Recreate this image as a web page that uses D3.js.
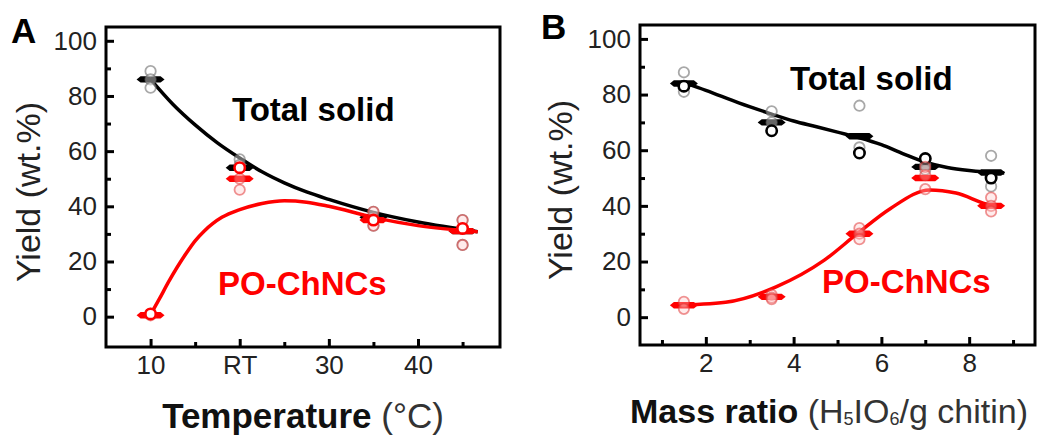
<!DOCTYPE html>
<html>
<head>
<meta charset="utf-8">
<script src="https://cdn.jsdelivr.net/npm/d3@7"></script>
<style>
  body { margin: 0; background: #fff; }
  svg { font-family: "Liberation Sans", Arial, sans-serif; }
</style>
</head>
<body>
<svg id="chart" width="1050" height="436"></svg>
<script>
// ---- panel A: temperature ----
const tempX = [10, 20, 35, 45];
const tempTicks = [10, 20, 30, 40];
const tempTickLabels = ["10", "RT", "30", "40"];
const totalA_mean = [86, 54, 36, 31];
const totalA_reps = [[89, 86, 83], [57, 55], [38, 36, 33], [35, 32, 26]];
const poA_mean = [0.5, 50, 35, 31];
const poA_main = [1, 54, 35, 32];
const poA_reps = [[1, 0.5], [50, 46], [38, 33], [35, 26]];
// fitted curves
const fitA_total = [[10, 86], [12.5, 77], [15, 69.5], [17.5, 63], [20, 57.5], [22.5, 52.5], [25, 48.5],
  [27.5, 45.2], [30, 42.5], [35, 37.8], [40, 34.3], [46.7, 30.8]];
const fitA_po = [[10, 0.7], [11, 6.5], [12, 12.5], [13, 18], [14, 23], [15, 27.5], [16, 31], [17, 33.8],
  [18, 36], [20, 38.8], [22.5, 41], [25, 42], [27.5, 41.5], [30, 40], [35, 36], [40, 33], [46.7, 30.8]];

// ---- panel B: mass ratio ----
const ratioX = [1.5, 3.5, 5.5, 7, 8.5];
const ratioTicks = [2, 4, 6, 8];
const totalB_mean = [84, 70, 65, 54, 52];
const totalB_main = [83, 67, 59, 57, 50];
const totalB_reps = [[88, 81], [74, 70], [76, 61], [55, 53], [58, 47]];
const poB_mean = [4.3, 7.3, 30, 50, 40];
const poB_reps = [[5.5, 3], [8, 7, 6.5], [32, 30, 28], [54, 51, 46], [43, 40, 38]];
const fitB_total = [[1.55, 84], [2, 81.5], [2.75, 77], [3.5, 73], [4, 70.5], [4.5, 68.5], [5, 66.5],
  [5.5, 64.5], [6, 62], [6.5, 58.7], [7, 55.7], [7.5, 53.8], [8, 52.7], [8.8, 51.8]];
const fitB_po = [[1.25, 4.3], [2.45, 5.4], [3.6, 10.9], [4.7, 20.5], [5.45, 30], [6.2, 39], [7.1, 45.7],
  [7.7, 44.6], [8.5, 40.3], [8.75, 40]];

const yTicks = [0, 20, 40, 60, 80, 100];
const yMinor = [10, 30, 50, 70, 90];

const svg = d3.select("#chart");
const RED = "#f00";

function drawPanel(p) {
  const x = d3.scaleLinear().domain(p.xDomain).range([p.left, p.right]);
  const y = d3.scaleLinear().domain(p.yDomain).range([p.bottom, p.top]);
  const g = svg.append("g");

  // axes (ticks inside)
  g.append("g").attr("transform", `translate(${p.left},0)`)
      .call(d3.axisLeft(y).tickValues(yTicks).tickSize(-8).tickPadding(9));
  g.append("g").attr("transform", `translate(${p.left},0)`)
      .call(d3.axisLeft(y).tickValues(yMinor).tickSize(-5).tickFormat(""));
  g.append("g").attr("transform", `translate(0,${p.bottom})`)
      .call(d3.axisBottom(x).tickValues(p.xTicks).tickSize(-8).tickPadding(9)
        .tickFormat((d, i) => p.xLabels ? p.xLabels[i] : d));
  g.append("g").attr("transform", `translate(0,${p.bottom})`)
      .call(d3.axisBottom(x).tickValues(p.xMinor).tickSize(-5).tickFormat(""));
  g.selectAll(".domain").remove();
  g.selectAll(".tick line").attr("stroke", "#000").attr("stroke-width", 3);
  g.selectAll(".tick text").attr("font-size", 26).attr("fill", "#222");

  g.append("rect")
      .attr("x", p.left).attr("y", p.top)
      .attr("width", p.right - p.left).attr("height", p.bottom - p.top)
      .attr("fill", "none").attr("stroke", "#000").attr("stroke-width", 3);

  const line = d3.line().x(d => x(d[0])).y(d => y(d[1])).curve(d3.curveMonotoneX);
  const bar = "M-14,0L-10,-3.2L10,-3.2L14,0L10,3.2L-10,3.2Z";

  function series(fit, xs, means, reps, mains, color, light, lightFill) {
    g.append("path").datum(fit).attr("d", line)
        .attr("fill", "none").attr("stroke", color).attr("stroke-width", 3.5);
    g.selectAll(null).data(xs).enter().append("path")
        .attr("d", bar).attr("fill", color)
        .attr("transform", (d, i) => `translate(${x(d)},${y(means[i])})`);
    xs.forEach((xv, i) => {
      g.selectAll(null).data(reps[i]).enter().append("circle")
          .attr("cx", x(xv)).attr("cy", d => y(d)).attr("r", 5.2)
          .attr("fill", lightFill).attr("stroke", light).attr("stroke-width", 1.8);
    });
    if (mains) {
      g.selectAll(null).data(xs).enter().append("circle")
          .attr("cx", d => x(d)).attr("cy", (d, i) => y(mains[i])).attr("r", 5.2)
          .attr("fill", "#fff").attr("stroke", color).attr("stroke-width", 2.6);
    }
  }

  series(p.fitTotal, p.xs, p.totalMean, p.totalReps, p.totalMain, "#000",
         "rgba(110,110,110,0.6)", "rgba(255,255,255,0.4)");
  series(p.fitPo, p.xs, p.poMean, p.poReps, p.poMain, RED,
         "rgba(225,60,60,0.55)", "rgba(255,200,200,0.35)");

  // in-plot labels
  g.append("text").attr("x", p.totalLabel[0]).attr("y", p.totalLabel[1])
      .attr("font-size", 33).attr("font-weight", "bold").attr("fill", "#000").text("Total solid");
  g.append("text").attr("x", p.poLabel[0]).attr("y", p.poLabel[1])
      .attr("font-size", 33).attr("font-weight", "bold").attr("fill", RED).text("PO-ChNCs");

  // panel letter
  g.append("text").attr("x", p.letter[0]).attr("y", p.letter[1])
      .attr("font-size", 35).attr("font-weight", "bold").text(p.letterText);

  // y title
  g.append("text")
      .attr("transform", `translate(${p.yTitleX},${(p.top + p.bottom) / 2 + 5}) rotate(-90)`)
      .attr("text-anchor", "middle").attr("font-size", 34).attr("fill", "#222")
      .text("Yield (wt.%)");
  return g;
}

const gA = drawPanel({
  left: 106, right: 500, top: 27, bottom: 347,
  xDomain: [5, 49.2], yDomain: [-11, 105],
  xTicks: tempTicks, xLabels: tempTickLabels, xMinor: [15, 25, 35, 45],
  xs: tempX,
  totalMean: totalA_mean, totalReps: totalA_reps, totalMain: null,
  poMean: poA_mean, poReps: poA_reps, poMain: poA_main,
  fitTotal: fitA_total, fitPo: fitA_po,
  totalLabel: [232, 121], poLabel: [218, 295],
  letter: [11, 43], letterText: "A", yTitleX: 40
});
const tA = gA.append("text").attr("x", 303).attr("y", 428).attr("text-anchor", "middle")
    .attr("font-size", 35).attr("fill", "#111");
tA.append("tspan").attr("font-weight", "bold").text("Temperature ");
tA.append("tspan").attr("fill", "#333").text("(°C)");

const gB = drawPanel({
  left: 640, right: 1035, top: 25, bottom: 345,
  xDomain: [0.5, 9.5], yDomain: [-10, 105],
  xTicks: ratioTicks, xLabels: null, xMinor: [1, 3, 5, 7, 9],
  xs: ratioX,
  totalMean: totalB_mean, totalReps: totalB_reps, totalMain: totalB_main,
  poMean: poB_mean, poReps: poB_reps, poMain: null,
  fitTotal: fitB_total, fitPo: fitB_po,
  totalLabel: [790, 90], poLabel: [822, 293],
  letter: [541, 39], letterText: "B", yTitleX: 572
});
const tB = gB.append("text").attr("x", 630).attr("y", 423)
    .attr("font-size", 34).attr("fill", "#111");
tB.append("tspan").attr("font-weight", "bold").text("Mass ratio ");
tB.append("tspan").attr("fill", "#333").text("(H");
tB.append("tspan").attr("fill", "#333").attr("font-size", 18).attr("dy", 2).text("5");
tB.append("tspan").attr("fill", "#333").attr("dy", -2).text("IO");
tB.append("tspan").attr("fill", "#333").attr("font-size", 18).attr("dy", 2).text("6");
tB.append("tspan").attr("fill", "#333").attr("dy", -2).text("/g chitin)");
</script>
</body>
</html>
